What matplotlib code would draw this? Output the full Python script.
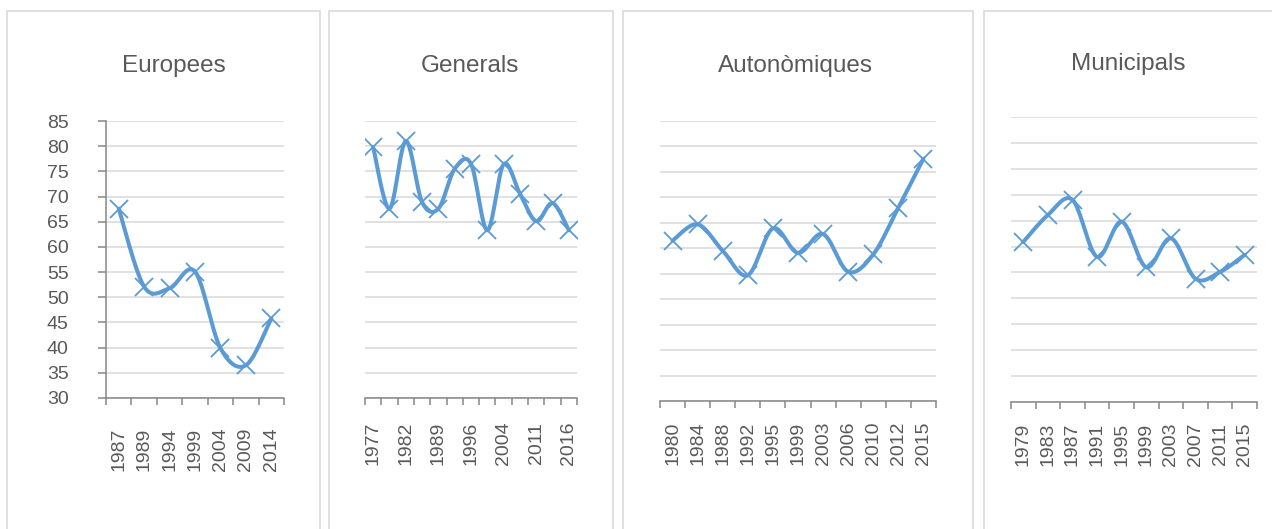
import numpy as np
import matplotlib
matplotlib.use("Agg")
import matplotlib.pyplot as plt
from matplotlib.patches import Rectangle

plt.rcParams['font.family'] = ['Liberation Sans', 'DejaVu Sans']

# =============================================================================
# DATA
europees_years = ['1987', '1989', '1994', '1999', '2004', '2009', '2014']
europees_vals = [67.6, 52.1, 51.8, 55.1, 39.9, 36.5, 45.8]

generals_years = ['1977', '1979', '1982', '1986', '1989', '1993', '1996',
                  '2000', '2004', '2008', '2011', '2015', '2016']
generals_vals = [79.8, 67.6, 81.0, 68.9, 67.6, 75.5, 76.5,
                 63.3, 76.4, 70.6, 65.1, 68.7, 63.3]

autonomiques_years = ['1980', '1984', '1988', '1992', '1995', '1999',
                      '2003', '2006', '2010', '2012', '2015']
autonomiques_vals = [61.5, 64.7, 59.5, 54.7, 63.9, 59.1, 62.8, 55.4, 58.8, 68.0, 77.6]

municipals_years = ['1979', '1983', '1987', '1991', '1995', '1999',
                    '2003', '2007', '2011', '2015']
municipals_vals = [60.9, 66.1, 69.0, 58.0, 64.8, 56.0, 61.6, 53.8, 55.1, 58.4]

titles = ['Europees', 'Generals', 'Autonòmiques', 'Municipals']
y_ticks = [30, 35, 40, 45, 50, 55, 60, 65, 70, 75, 80, 85]

# =============================================================================
# STYLE / LAYOUT (pixels of a 1272x529 canvas)
W, H = 1272, 529
LINE = '#5b9bd5'
TEXT = '#595959'
AXIS = '#868686'
GRID = '#d9d9d9'

# (left, right, top, bottom) of each plot area
axes_px = [(106, 284, 121, 398), (365, 577, 121, 398),
           (660, 936, 121, 401), (1011, 1257, 117, 402)]
# panel frames (left, right, top)
frames_px = [(7, 320, 11), (329, 613, 11), (623, 973, 11), (984, 1300, 11)]
# title centre x, baseline y
title_px = [(174, 72), (470, 72), (795, 72), (1128, 70)]
label_pad = [21.5, 17, 15, 15]
label_step = [1, 2, 1, 1]


def smooth(x, y, n=40):
    """Excel-like smoothed line (cubic Bezier through the points)."""
    pts = np.column_stack([x, y]).astype(float)
    P = np.vstack([pts[0], pts, pts[-1]])
    t = np.linspace(0, 1, n)[:, None]
    out = []
    for i in range(1, len(P) - 2):
        p0, p1, p2, p3 = P[i - 1], P[i], P[i + 1], P[i + 2]
        c1 = p1 + (p2 - p0) / 6
        c2 = p2 - (p3 - p1) / 6
        seg = (1 - t) ** 3 * p1 + 3 * (1 - t) ** 2 * t * c1 + 3 * (1 - t) * t ** 2 * c2 + t ** 3 * p2
        out.append(seg if i == 1 else seg[1:])
    return np.vstack(out)


fig = plt.figure(figsize=(W / 100, H / 100), dpi=100)

for l, r, top in frames_px:
    fig.add_artist(Rectangle((l / W, -0.1), (r - l) / W, 1.1 - top / H,
                             transform=fig.transFigure, fill=False,
                             ec=GRID, lw=1.2, clip_on=False))

series = [(europees_years, europees_vals), (generals_years, generals_vals),
          (autonomiques_years, autonomiques_vals), (municipals_years, municipals_vals)]

for k, (years, vals) in enumerate(series):
    l, r, top, bot = axes_px[k]
    ax = fig.add_axes([l / W, 1 - bot / H, (r - l) / W, (bot - top) / H])
    n = len(years)
    x = np.arange(n)
    curve = smooth(x, vals)
    ax.plot(curve[:, 0], curve[:, 1], color=LINE, lw=2.9, solid_capstyle='round', zorder=3)
    ax.plot(x, vals, ls='none', marker='x', ms=12.5, mew=1.3, color=LINE, zorder=4)

    ax.set_xlim(-0.5, n - 0.5)
    ax.set_ylim(30, 85)
    ax.set_yticks(y_ticks)
    ax.yaxis.grid(True, color=GRID, lw=1.1)
    ax.set_axisbelow(True)

    # tick marks between categories, labels at category centres
    ax.set_xticks(np.arange(n + 1) - 0.5)
    ax.set_xticklabels([])
    ax.tick_params(axis='x', which='major', direction='out', length=5, width=1.1, color=AXIS)
    ax.set_xticks(x[::label_step[k]], minor=True)
    ax.set_xticklabels(years[::label_step[k]], minor=True, rotation=90,
                       fontsize=14, color=TEXT)
    ax.tick_params(axis='x', which='minor', length=0, pad=label_pad[k])

    for s in ['top', 'right']:
        ax.spines[s].set_visible(False)
    ax.spines['bottom'].set_color(AXIS)
    ax.spines['bottom'].set_linewidth(1.1)
    ax.spines['bottom'].set_zorder(2)

    if k == 0:
        ax.spines['left'].set_color(AXIS)
        ax.spines['left'].set_linewidth(1.1)
        ax.tick_params(axis='y', direction='out', length=6, width=1.1, color=AXIS,
                       labelsize=14, labelcolor=TEXT, pad=21)
    else:
        ax.spines['left'].set_visible(False)
        ax.tick_params(axis='y', length=0, labelleft=False)

    tx, ty = title_px[k]
    fig.text(tx / W, 1 - ty / H, titles[k], ha='center', va='baseline',
             fontsize=17.5, color=TEXT)

fig.savefig('out.png', dpi=100)
